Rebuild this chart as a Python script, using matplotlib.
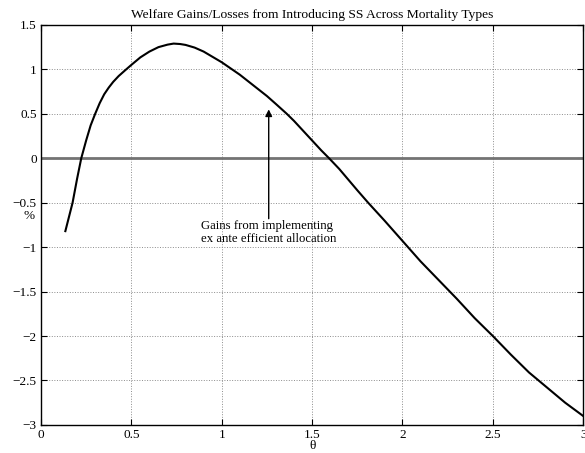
import matplotlib
matplotlib.use('Agg')
import matplotlib.pyplot as plt
import matplotlib.ticker

# welfare change (%) against mortality type theta
theta = [0.135, 0.15, 0.175, 0.20, 0.223, 0.25, 0.275, 0.30, 0.325, 0.35,
         0.375, 0.40, 0.43, 0.466, 0.50, 0.55, 0.60, 0.65, 0.70, 0.734,
         0.77, 0.80, 0.85, 0.90, 0.95, 1.0, 1.05, 1.10, 1.15, 1.20,
         1.25, 1.30, 1.36, 1.40, 1.45, 1.50, 1.55, 1.594, 1.65, 1.70,
         1.75, 1.81, 1.90, 2.0, 2.1, 2.2, 2.3, 2.4, 2.5, 2.6,
         2.7, 2.8, 2.9, 3.0]
welfare = [-0.82, -0.70, -0.50, -0.23, 0.0, 0.20, 0.37, 0.50, 0.62, 0.72,
           0.795, 0.86, 0.925, 0.99, 1.05, 1.135, 1.20, 1.25, 1.278, 1.29,
           1.285, 1.275, 1.245, 1.20, 1.14, 1.08, 1.01, 0.94, 0.86, 0.78,
           0.70, 0.61, 0.50, 0.42, 0.31, 0.20, 0.09, 0.0, -0.12, -0.24,
           -0.36, -0.50, -0.70, -0.93, -1.16, -1.37, -1.58, -1.80, -2.0, -2.21,
           -2.41, -2.58, -2.75, -2.9]

xticks = [0, 0.5, 1, 1.5, 2, 2.5, 3]
yticks = [-3, -2.5, -2, -1.5, -1, -0.5, 0, 0.5, 1, 1.5]

arrow_tip = (1.26, 0.55)
arrow_tail = (1.26, -0.68)
note = 'Gains from implementing\nex ante efficient allocation'

plt.rcParams['font.family'] = ['Liberation Serif', 'DejaVu Serif']
plt.rcParams['font.size'] = 9.5


def num_fmt(v, pos=None):
    return ('%g' % v).replace('-', '\u2212')


fig = plt.figure(figsize=(5.85, 4.53), dpi=100)
ax = fig.add_axes([0.070, 0.062, 0.927, 0.883])

ax.axhline(0, color='0.45', lw=2.0, zorder=2)
ax.plot(theta, welfare, color='black', lw=1.5, zorder=3)

ax.annotate('', xy=arrow_tip, xytext=arrow_tail,
            arrowprops=dict(arrowstyle='-|>', color='black', lw=1.0,
                            mutation_scale=10, shrinkA=0, shrinkB=0))
ax.text(0.887, -0.69, note, ha='left', va='top', fontsize=9.2,
        linespacing=1.15)

ax.set_xlim(0, 3)
ax.set_ylim(-3, 1.5)
ax.set_xticks(xticks)
ax.set_yticks(yticks)
ax.xaxis.set_major_formatter(matplotlib.ticker.FuncFormatter(num_fmt))
ax.yaxis.set_major_formatter(matplotlib.ticker.FuncFormatter(num_fmt))
ax.tick_params(direction='in', top=True, right=True, length=4, width=0.8,
               labelsize=9.5, pad=3)
ax.grid(True, linestyle=':', color='0.55', lw=0.7)
for s in ax.spines.values():
    s.set_linewidth(1.0)

ax.set_title('Welfare Gains/Losses from Introducing SS Across Mortality Types',
             fontsize=9.7, pad=5)
ax.set_xlabel('\u03b8', fontsize=9.5, labelpad=-1)
ax.set_ylabel('%', fontsize=9.5, rotation=0, va='center')
ax.yaxis.set_label_coords(-0.022, 0.522)

fig.savefig('out.png', dpi=100)
